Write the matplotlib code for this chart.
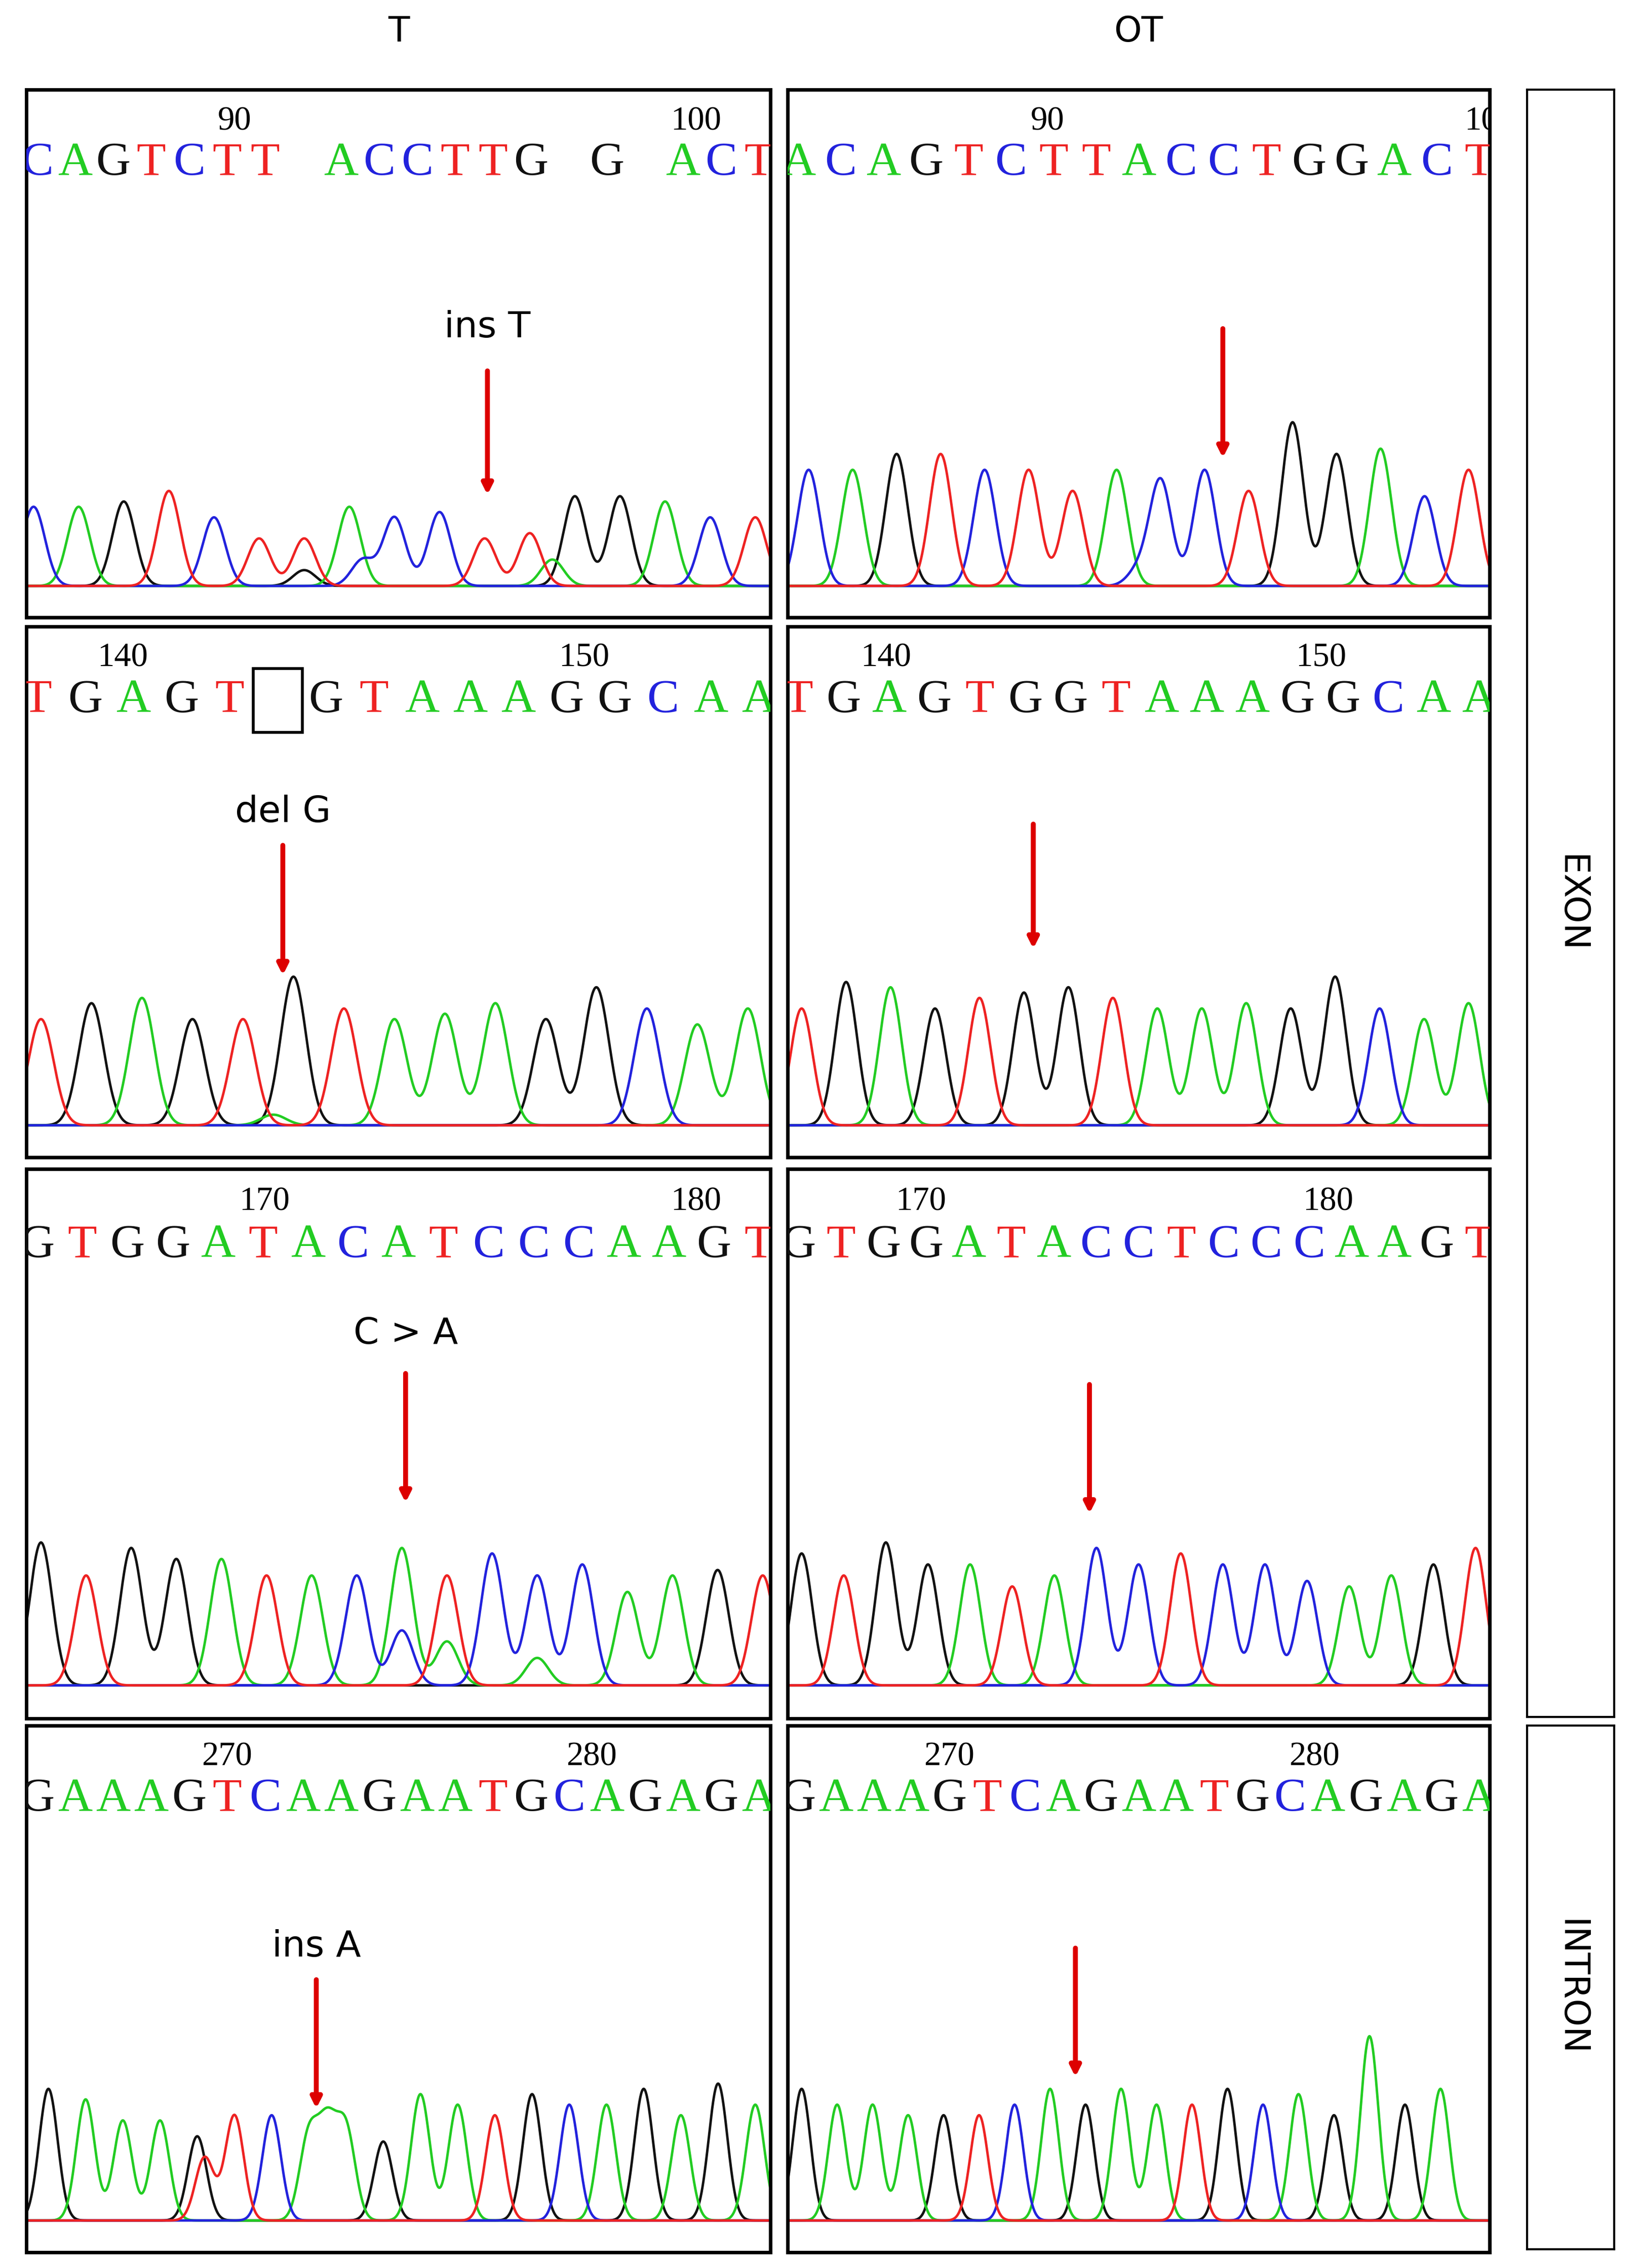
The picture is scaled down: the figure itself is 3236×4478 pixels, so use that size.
import numpy as np
import matplotlib
matplotlib.use("Agg")
import matplotlib.pyplot as plt
from matplotlib.patches import Rectangle

W, H = 1130.0, 1568.0
COL = {"A": "#22cc22", "C": "#2222dd", "G": "#111111", "T": "#ee2222"}

# panel boxes (display coords x0,y0,x1,y1)
boxes = [(18, 62, 531, 427), (543, 62, 1027, 427),
         (18, 433, 531, 800), (543, 433, 1027, 800),
         (18, 808, 531, 1188), (543, 808, 1027, 1188),
         (18, 1193, 531, 1557), (543, 1193, 1027, 1557)]

seq_text = ["CAGTCTT ACCTTG G ACT", "ACAGTCTTACCTGGACT",
            "TGAGT GTAAAGGCAA", "TGAGTGGTAAAGGCAA",
            "GTGGATACATCCCAAGT", "GTGGATACCTCCCAAGT",
            "GAAAGTCAAGAATGCAGAGA", "GAAAGTCAGAATGCAGAGA"]
numbers = [[("90", .28), ("100", .9)], [("90", .37), ("100", 1.0)],
           [("140", .13), ("150", .75)], [("140", .14), ("150", .76)],
           [("170", .32), ("180", .9)], [("170", .19), ("180", .77)],
           [("270", .27), ("280", .76)], [("270", .23), ("280", .75)]]
peak_bases = ["CAGTCTTACCTTGGACT", "CAGTCTTACCTGGACT",
              "TGAGTGTAAAGGCAA", "TGAGTGGTAAAGGCAA",
              "GTGGATACATCCCAAGT", "GTGGATACCTCCCAAGT",
              "GAAAGTCAAGAATGCAGAGA", "GAAAGTCAGAATGCAGAGA"]
peak_heights = [
    [.15, .15, .16, .18, .13, .09, .09, .15, .13, .14, .09, .10, .17, .17, .16, .13, .13],
    [.22, .22, .25, .25, .22, .22, .18, .22, .20, .22, .18, .31, .25, .26, .17, .22],
    [.20, .23, .24, .20, .20, .28, .22, .20, .21, .23, .20, .26, .22, .19, .22],
    [.22, .27, .26, .22, .24, .25, .26, .24, .22, .22, .23, .22, .28, .22, .20, .23],
    [.26, .20, .25, .23, .23, .20, .20, .20, .25, .20, .24, .20, .22, .17, .20, .21, .20],
    [.24, .20, .26, .22, .22, .18, .20, .25, .22, .24, .22, .22, .19, .18, .20, .22, .25],
    [.25, .23, .19, .19, .16, .20, .20, .16, .17, .15, .24, .22, .20, .24, .22, .22, .25, .20, .26, .22],
    [.25, .22, .22, .20, .20, .20, .22, .25, .22, .25, .22, .22, .25, .22, .24, .20, .35, .22, .25],
]
peak_span = [(.01, .98), (.03, .97), (.02, .97), (.02, .97),
             (.02, .99), (.02, .98), (.03, .98), (.02, .93)]
# minor peaks: (base, fractional index, height)
minor = [[("G", 6.0, .03), ("C", 7.3, .05), ("A", 11.5, .05)],
         [("C", 7.5, .03)],
         [("A", 4.6, .02)],
         [],
         [("C", 8.0, .10), ("A", 9.0, .08), ("A", 11.0, .05)],
         [],
         [("T", 4.2, .12), ("A", 7.5, .17)],
         []]
arrows = [(.62, .47, .23, "ins T", .55), (.62, .55, .30, None, 0),
          (.345, .59, .34, "del G", .65), (.35, .63, .39, None, 0),
          (.51, .63, .39, "C > A", .70), (.43, .61, .37, None, 0),
          (.39, .52, .27, "ins A", .58), (.41, .58, .33, None, 0)]

fig = plt.figure(figsize=(32.36, 44.78), dpi=100)

def frac(x0, y0, x1, y1):
    return [x0 / W, 1 - y1 / H, (x1 - x0) / W, (y1 - y0) / H]

x = np.linspace(0, 1, 3000)
for i, b in enumerate(boxes):
    ax = fig.add_axes(frac(*b))
    ax.set_xlim(0, 1); ax.set_ylim(0, 1)
    ax.set_xticks([]); ax.set_yticks([])
    for s in ax.spines.values():
        s.set_linewidth(5)
    base = 0.06
    n = len(peak_bases[i])
    p0, p1 = peak_span[i]
    pos = np.linspace(p0, p1, n)
    step = pos[1] - pos[0]
    sig = step * 0.25
    traces = {k: np.zeros_like(x) for k in "ACGT"}
    for bse, p, h in zip(peak_bases[i], pos, peak_heights[i]):
        traces[bse] += h * np.exp(-0.5 * ((x - p) / sig) ** 2)
    for bse, fi, h in minor[i]:
        p = p0 + fi * step
        traces[bse] += h * np.exp(-0.5 * ((x - p) / sig) ** 2)
    ax.axhline(base, color="#888888", lw=3)
    for k in "GACT":
        ax.plot(x, base + traces[k], color=COL[k], lw=3.5)
    s = seq_text[i]
    xs = np.linspace(0.015, 0.985, len(s))
    for ch, xx in zip(s, xs):
        if ch == " ":
            continue
        ax.text(xx, 0.86, ch, color=COL[ch], fontsize=68, family="Liberation Serif",
                ha="center", va="center", clip_on=True)
    if i == 2:
        gx = xs[5]
        ax.add_patch(Rectangle((gx - 0.033, 0.80), 0.066, 0.12, fill=False, lw=4, color="black"))
    for t, xx in numbers[i]:
        ax.text(xx, 0.94, t, fontsize=48, family="Liberation Serif", ha="center",
                va="center", clip_on=True)
    ax_x, y0, y1, lab, ly = arrows[i]
    ax.annotate("", xy=(ax_x, y1), xytext=(ax_x, y0),
                arrowprops=dict(arrowstyle="-|>,head_width=0.6,head_length=1.2",
                                color="#dd0000", lw=7))
    if lab:
        ax.text(ax_x, ly, lab, fontsize=52, family="DejaVu Sans", ha="center", va="center")

fig.text(275 / W, 1 - 22 / H, "T", fontsize=50, ha="center", va="center")
fig.text(785 / W, 1 - 22 / H, "OT", fontsize=50, ha="center", va="center")
for (y0, y1, lab) in [(62, 1187, "EXON"), (1193, 1555, "INTRON")]:
    a = fig.add_axes(frac(1053, y0, 1113, y1))
    a.set_xticks([]); a.set_yticks([])
    for s in a.spines.values():
        s.set_linewidth(3)
    a.text(0.5, 0.5, lab, rotation=270, fontsize=50, ha="center", va="center",
           transform=a.transAxes)

fig.savefig("out.png", dpi=100, facecolor="white")
